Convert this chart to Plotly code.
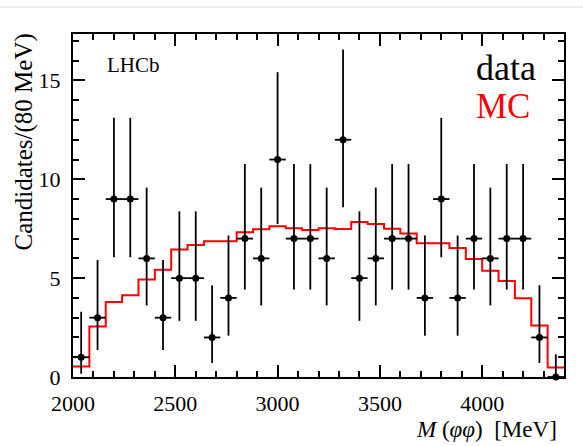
import plotly.graph_objects as go

# ---- data ----
mass_centers = [2040, 2120, 2200, 2280, 2360, 2440, 2520, 2600, 2680, 2760,
                2840, 2920, 3000, 3080, 3160, 3240, 3320, 3400, 3480, 3560,
                3640, 3720, 3800, 3880, 3960, 4040, 4120, 4200, 4280, 4360]
counts = [1, 3, 9, 9, 6, 3, 5, 5, 2, 4,
          7, 6, 11, 7, 7, 6, 12, 5, 6, 7,
          7, 4, 9, 4, 7, 6, 7, 7, 2, 0]
err_up = [2.30, 2.92, 4.11, 4.11, 3.58, 2.92, 3.38, 3.38, 2.64, 3.16,
          3.77, 3.58, 4.42, 3.77, 3.77, 3.58, 4.57, 3.38, 3.58, 3.77,
          3.77, 3.16, 4.11, 3.16, 3.77, 3.58, 3.77, 3.77, 2.64, 1.15]
err_dn = [0.83, 1.63, 2.94, 2.94, 2.38, 1.63, 2.16, 2.16, 1.29, 1.91,
          2.58, 2.38, 3.26, 2.58, 2.58, 2.38, 3.41, 2.16, 2.38, 2.58,
          2.58, 1.91, 2.94, 1.91, 2.58, 2.38, 2.58, 2.58, 1.29, 0.0]
mc = [0.53, 2.56, 3.79, 4.14, 4.93, 5.43, 6.45, 6.68, 6.87, 6.87,
      7.32, 7.47, 7.62, 7.52, 7.44, 7.52, 7.48, 7.84, 7.74, 7.50,
      7.26, 6.76, 6.76, 6.52, 5.97, 5.37, 4.86, 3.98, 2.60, 0.48]
bin_half = 40
x_ticks = [2000, 2500, 3000, 3500, 4000]
y_ticks = [0, 5, 10, 15]

# step-histogram edges
edges = [c - bin_half for c in mass_centers] + [mass_centers[-1] + bin_half]
mc_step = mc + [mc[-1]]

FONT = "'Liberation Serif', 'Times New Roman', Times, serif"

fig = go.Figure()
fig.add_trace(go.Scatter(
    x=edges, y=mc_step, mode="lines", line_shape="hv",
    line=dict(color="#ff0000", width=2), showlegend=False, hoverinfo="skip"))
fig.add_trace(go.Scatter(
    x=mass_centers, y=counts, mode="markers",
    marker=dict(color="black", size=7),
    error_y=dict(type="data", symmetric=False, array=err_up, arrayminus=err_dn,
                 width=0, thickness=1.8, color="black"),
    error_x=dict(type="constant", value=bin_half, width=0, thickness=1.8, color="black"),
    cliponaxis=False, showlegend=False))

axis_common = dict(
    showline=True, linecolor="black", linewidth=2, mirror="allticks",
    ticks="inside", ticklen=12, tickwidth=1.5, tickcolor="black",
    showgrid=False, zeroline=False,
    tickfont=dict(family=FONT, size=22, color="black"),
)

fig.update_xaxes(range=[2000, 4400], tickvals=x_ticks,
                 minor=dict(dtick=100, tick0=2000, ticks="inside", ticklen=6,
                            tickwidth=1.5, tickcolor="black"),
                 ticklabelstandoff=6,
                 **axis_common)
fig.update_yaxes(range=[0, 17.35], tickvals=y_ticks,
                 minor=dict(dtick=1, tick0=0, ticks="inside", ticklen=6,
                            tickwidth=1.5, tickcolor="black"),
                 ticklabelstandoff=6,
                 **axis_common)

L, R, T, B = 73, 19, 34, 69
W, H = 583, 446
pw, ph = W - L - R, H - T - B

def px(x):
    return (x - L) / pw

def py(y):
    return (H - B - y) / ph

annotations = [
    dict(text="LHCb", x=px(105), y=py(65), xanchor="left", yanchor="middle",
         font=dict(family=FONT, size=21, color="black")),
    dict(text="data", x=px(474), y=py(68), xanchor="left", yanchor="middle",
         font=dict(family=FONT, size=36, color="black")),
    dict(text="MC", x=px(474), y=py(106), xanchor="left", yanchor="middle",
         font=dict(family=FONT, size=35, color="#ff0000")),
    dict(text="<i>M</i> (<i>φφ</i>)  [MeV]", x=px(559), y=py(430), xanchor="right",
         yanchor="middle", font=dict(family=FONT, size=23, color="black")),
    dict(text="Candidates/(80 MeV)", x=px(23), y=py(32), xanchor="center",
         yanchor="top", textangle=-90, font=dict(family=FONT, size=25, color="black")),
]
for a in annotations:
    a.update(xref="paper", yref="paper", showarrow=False)

fig.update_layout(
    width=W, height=H, margin=dict(l=L, r=R, t=T, b=B, pad=0),
    plot_bgcolor="white", paper_bgcolor="white",
    font=dict(family=FONT),
    annotations=annotations,
    shapes=[dict(type="line", xref="paper", yref="paper", x0=px(0), x1=px(W),
                 y0=py(7), y1=py(7), line=dict(color="#ececec", width=2))],
)

fig.write_html("out.html")
